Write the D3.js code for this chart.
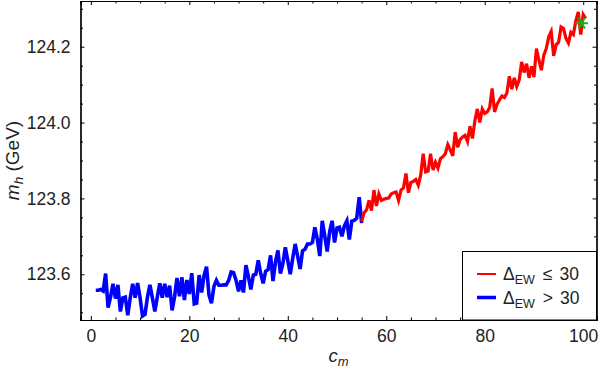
<!DOCTYPE html>
<html>
<head>
<meta charset="utf-8">
<script src="https://cdn.jsdelivr.net/npm/d3@7"></script>
<style>
  html, body { margin: 0; padding: 0; background: #fff; }
  text { font-family: "Liberation Sans", Arial, sans-serif; fill: #222; }
</style>
</head>
<body>
<div id="chart"></div>
<script>
const width = 600;
const height = 372;
const margin = { left: 80.5, right: 3.5, top: 1, bottom: 52 };

// c_m scan, Delta_EW > 30 part (blue)
const cmBlue = [
  1.0, 1.5, 2.0, 2.5, 3.0, 3.5, 4.0, 4.5, 5.0, 5.5,
  6.0, 6.5, 7.0, 7.5, 8.0, 8.5, 9.0, 9.5, 10.0, 10.5,
  11.0, 11.5, 12.0, 12.5, 13.0, 13.5, 14.0, 14.5, 15.0, 15.5,
  16.0, 16.5, 17.0, 17.5, 18.0, 18.5, 19.0, 19.5, 20.0, 20.5,
  21.0, 21.5, 22.0, 22.5, 23.0, 23.5, 24.0, 24.5, 25.0, 25.5,
  26.0, 26.5, 27.0, 27.5, 28.0, 28.5, 29.0, 29.5, 30.0, 30.5,
  31.0, 31.5, 32.0, 32.5, 33.0, 33.5, 34.0, 34.5, 35.0, 35.5,
  36.0, 36.5, 37.0, 37.5, 38.0, 38.5, 39.0, 39.5, 40.0, 40.5,
  41.0, 41.5, 42.0, 42.5, 43.0, 43.5, 44.0, 44.5, 45.0, 45.5,
  46.0, 46.5, 47.0, 47.5, 48.0, 48.5, 49.0, 49.5, 50.0, 50.5,
  51.0, 51.5, 52.0, 52.5, 53.0, 53.5, 54.0, 54.5, 55.0
];
const mhBlue = [
  123.558, 123.558, 123.560, 123.556, 123.602, 123.512, 123.540, 123.575, 123.536, 123.572,
  123.502, 123.538, 123.540, 123.492, 123.538, 123.575, 123.538, 123.577, 123.538, 123.490,
  123.494, 123.540, 123.572, 123.538, 123.502, 123.540, 123.576, 123.538, 123.575, 123.540,
  123.570, 123.505, 123.540, 123.590, 123.542, 123.592, 123.532, 123.585, 123.548, 123.603,
  123.522, 123.524, 123.598, 123.552, 123.597, 123.620, 123.545, 123.524, 123.568, 123.584,
  123.571, 123.571, 123.572, 123.572, 123.584, 123.606, 123.604, 123.584, 123.555, 123.584,
  123.552, 123.624, 123.594, 123.560, 123.598, 123.600, 123.637, 123.602, 123.576, 123.608,
  123.612, 123.650, 123.582, 123.633, 123.663, 123.602, 123.628, 123.671, 123.636, 123.600,
  123.642, 123.680, 123.648, 123.614, 123.662, 123.666, 123.680, 123.680, 123.684, 123.724,
  123.692, 123.648, 123.741, 123.702, 123.660, 123.712, 123.741, 123.684, 123.722, 123.724,
  123.700, 123.728, 123.741, 123.692, 123.740, 123.742, 123.748, 123.803, 123.735
];

// c_m scan, Delta_EW <= 30 part (red)
const cmRed = [
  55.0, 55.5, 56.0, 56.5, 57.0, 57.5, 58.0, 58.5, 59.0, 59.5,
  60.0, 60.5, 61.0, 61.5, 62.0, 62.5, 63.0, 63.5, 64.0, 64.5,
  65.0, 65.5, 66.0, 66.5, 67.0, 67.5, 68.0, 68.5, 69.0, 69.5,
  70.0, 70.5, 71.0, 71.5, 72.0, 72.5, 73.0, 73.5, 74.0, 74.5,
  75.0, 75.5, 76.0, 76.5, 77.0, 77.5, 78.0, 78.5, 79.0, 79.5,
  80.0, 80.5, 81.0, 81.5, 82.0, 82.5, 83.0, 83.5, 84.0, 84.5,
  85.0, 85.5, 86.0, 86.5, 87.0, 87.5, 88.0, 88.5, 89.0, 89.5,
  90.0, 90.5, 91.0, 91.5, 92.0, 92.5, 93.0, 93.5, 94.0, 94.5,
  95.0, 95.5, 96.0, 96.5, 97.0, 97.5, 98.0, 98.5, 99.0, 99.5,
  100.0, 100.5
];
const mhRed = [
  123.740, 123.762, 123.770, 123.795, 123.768, 123.822, 123.780, 123.812, 123.795, 123.798,
  123.800, 123.801, 123.812, 123.815, 123.817, 123.795, 123.822, 123.828, 123.866, 123.815,
  123.842, 123.845, 123.850, 123.835, 123.862, 123.918, 123.870, 123.872, 123.918, 123.875,
  123.895, 123.880, 123.905, 123.910, 123.918, 123.942, 123.928, 123.912, 123.975, 123.935,
  123.955, 123.962, 123.966, 123.950, 123.990, 123.958, 124.005, 124.036, 124.000, 124.036,
  124.024, 124.028, 124.040, 124.090, 124.028, 124.048, 124.060, 124.070, 124.066, 124.078,
  124.122, 124.088, 124.118, 124.095, 124.112, 124.160, 124.132, 124.155, 124.118, 124.148,
  124.120, 124.195, 124.165, 124.138, 124.178, 124.195, 124.226, 124.240, 124.176, 124.205,
  124.212, 124.252, 124.248, 124.222, 124.210, 124.238, 124.232, 124.268, 124.292, 124.232,
  124.285, 124.275
];

// benchmark point (green star)
const starPoint = [99.7, 124.262];

const xTicks = [0, 20, 40, 60, 80, 100];
const xMinor = [5, 10, 15, 25, 30, 35, 45, 50, 55, 65, 70, 75, 85, 90, 95];
const yTicks = [123.6, 123.8, 124.0, 124.2];
const yMinor = [123.5, 123.55, 123.65, 123.7, 123.75, 123.85, 123.9, 123.95, 124.05, 124.1, 124.15, 124.25, 124.3];

const legendItems = [
  { color: "#ff0000", sign: "≤", width: 2 },
  { color: "#0000ff", sign: ">", width: 3.5 }
];

const svg = d3.select("#chart")
    .append("svg")
    .attr("width", width)
    .attr("height", height);

const x = d3.scaleLinear().domain([-2.1, 102.7]).range([margin.left, width - margin.right]);
const y = d3.scaleLinear().domain([123.4795, 124.3205]).range([height - margin.bottom, margin.top]);

const x0 = x.range()[0], x1 = x.range()[1];
const y0 = y.range()[0], y1 = y.range()[1];

svg.append("clipPath").attr("id", "clip")
    .append("rect").attr("x", x0).attr("y", y1).attr("width", x1 - x0).attr("height", y0 - y1);

// lines
const line = d3.line().x(d => x(d[0])).y(d => y(d[1]));
const blueData = cmBlue.map((c, i) => [c, mhBlue[i]]);
const redData = cmRed.map((c, i) => [c, mhRed[i]]);

const plot = svg.append("g").attr("clip-path", "url(#clip)");
plot.append("path").datum(blueData)
    .attr("d", line).attr("fill", "none")
    .attr("stroke", "#0000ff").attr("stroke-width", 3.6);
plot.append("path").datum(redData)
    .attr("d", line).attr("fill", "none")
    .attr("stroke", "#ff0000").attr("stroke-width", 3.2);

plot.append("path")
    .attr("d", d3.symbol(d3.symbolAsterisk, 110)())
    .attr("transform", `translate(${x(starPoint[0])},${y(starPoint[1])}) rotate(90)`)
    .attr("fill", "none").attr("stroke", "#1fae1f").attr("stroke-width", 2);

// frame axes, ticks pointing inward
const axes = svg.append("g").attr("class", "axes");
const bottomAx = d3.axisBottom(x).tickValues(xTicks).tickSize(-4).tickPadding(10).tickFormat(d3.format("d"));
const bottomMinor = d3.axisBottom(x).tickValues(xMinor).tickSize(-2.5).tickFormat("");
const topAx = d3.axisTop(x).tickValues(xTicks).tickSize(-4).tickFormat("");
const topMinor = d3.axisTop(x).tickValues(xMinor).tickSize(-2.5).tickFormat("");
const leftAx = d3.axisLeft(y).tickValues(yTicks).tickSize(-4).tickPadding(10).tickFormat(d3.format(".1f"));
const leftMinor = d3.axisLeft(y).tickValues(yMinor).tickSize(-2.5).tickFormat("");
const rightAx = d3.axisRight(y).tickValues(yTicks).tickSize(-4).tickFormat("");
const rightMinor = d3.axisRight(y).tickValues(yMinor).tickSize(-2.5).tickFormat("");

axes.append("g").attr("transform", `translate(0,${y0})`).call(bottomAx);
axes.append("g").attr("transform", `translate(0,${y0})`).call(bottomMinor);
axes.append("g").attr("transform", `translate(0,${y1})`).call(topAx);
axes.append("g").attr("transform", `translate(0,${y1})`).call(topMinor);
axes.append("g").attr("transform", `translate(${x0},0)`).call(leftAx);
axes.append("g").attr("transform", `translate(${x0},0)`).call(leftMinor);
axes.append("g").attr("transform", `translate(${x1},0)`).call(rightAx);
axes.append("g").attr("transform", `translate(${x1},0)`).call(rightMinor);

axes.selectAll(".domain").attr("stroke", "#000").attr("stroke-width", 1.2);
axes.selectAll(".tick line").attr("stroke", "#000").attr("stroke-width", 1);
axes.selectAll(".tick text")
    .style("font-size", "17.5px")
    .style("font-family", "'Liberation Sans', Arial, sans-serif")
    .attr("fill", "#222");

// axis titles
const xt = svg.append("text")
    .attr("x", (x0 + x1) / 2).attr("y", 362)
    .attr("text-anchor", "middle").style("font-size", "18.5px");
xt.append("tspan").style("font-style", "italic").text("c");
xt.append("tspan").style("font-style", "italic").style("font-size", "13px").attr("dy", 4).text("m");

const yt = svg.append("text")
    .attr("transform", `translate(19,${(y0 + y1) / 2}) rotate(-90)`)
    .attr("text-anchor", "middle").style("font-size", "19px");
yt.append("tspan").style("font-style", "italic").text("m");
yt.append("tspan").style("font-style", "italic").style("font-size", "13.5px").attr("dy", 4).text("h");
yt.append("tspan").attr("dy", -4).text(" (GeV)");

// legend
const legend = svg.append("g");
legend.append("rect")
    .attr("x", 462.5).attr("y", 251.5)
    .attr("width", x1 - 462.5).attr("height", y0 - 251.5)
    .attr("fill", "#fff").attr("stroke", "#000").attr("stroke-width", 1);

legendItems.forEach((d, i) => {
    const ly = 274 + i * 23.5;
    legend.append("line")
        .attr("x1", 477).attr("x2", 496)
        .attr("y1", ly).attr("y2", ly)
        .attr("stroke", d.color).attr("stroke-width", d.width);
    const t = legend.append("text").attr("x", 503).attr("y", ly + 6).style("font-size", "17.5px");
    t.append("tspan").text("Δ");
    t.append("tspan").style("font-size", "12.5px").attr("dy", 4).text("EW");
    t.append("tspan").attr("dy", -4).attr("dx", 8).text(d.sign);
    t.append("tspan").attr("dx", 7).text("30");
});
</script>
</body>
</html>
